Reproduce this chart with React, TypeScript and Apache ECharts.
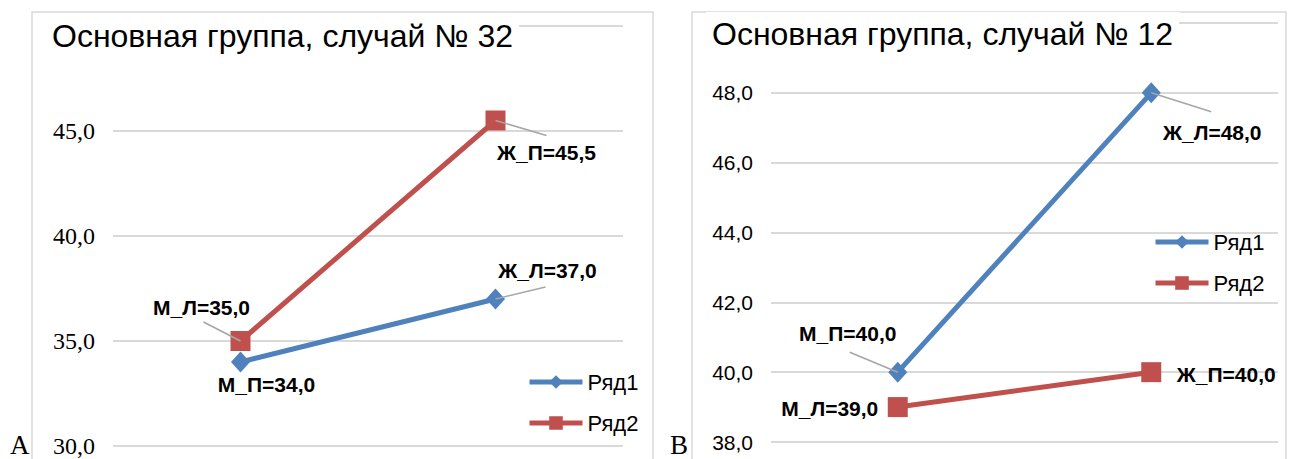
import React, { useEffect, useRef } from 'react';
import * as echarts from 'echarts';

// Categories on the (hidden) x axis and the two series of each case
const categories = ['М', 'Ж'];
const seriesNames = ['Ряд1', 'Ряд2'];
const row1PointNames = ['М_П', 'Ж_Л'];
const row2PointNames = ['М_Л', 'Ж_П'];

const case32Row1 = [34.0, 37.0];
const case32Row2 = [35.0, 45.5];
const case12Row1 = [40.0, 48.0];
const case12Row2 = [39.0, 40.0];

// Y-axis tick values
const case32Ticks = [30, 35, 40, 45, 50];
const case12Ticks = [38, 40, 42, 44, 46, 48, 50];

const titles = ['Основная группа, случай № 32', 'Основная группа, случай № 12'];
const panelLetters = ['A', 'B'];

const BLUE = '#4F81BD';
const RED = '#C0504D';
const GRID_GRAY = '#d9d9d9';
const LEADER_GRAY = '#a6a6a6';
const SANS = 'Liberation Sans';
const SERIF = 'Liberation Serif';

type Place = { label: [number, number]; leader: [number, number] | null };

// Label offsets from the marker centre and leader-line ends (pixels)
const placement: Record<string, Place[]> = {
  case32Row1: [
    { label: [26, 22], leader: null },
    { label: [52, -29], leader: [50, -12] },
  ],
  case32Row2: [
    { label: [-39, -34], leader: [-37, -19] },
    { label: [51, 32], leader: [51, 15] },
  ],
  case12Row1: [
    { label: [-50, -39], leader: [-48, -20] },
    { label: [61, 40], leader: [60, 19] },
  ],
  case12Row2: [
    { label: [-68, 1], leader: null },
    { label: [75, 2], leader: null },
  ],
};

const fmt = (v: number) => v.toFixed(1).replace('.', ',');

function lineSeries(
  name: string,
  values: number[],
  pointNames: string[],
  place: Place[],
  gridIndex: number,
  color: string,
  symbol: string,
  symbolSize: number | number[]
) {
  return {
    type: 'line',
    name,
    xAxisIndex: gridIndex,
    yAxisIndex: gridIndex,
    data: values.map((v, i) => ({ value: v, label: { offset: place[i].label } })),
    symbol,
    symbolSize,
    showAllSymbol: true,
    lineStyle: { width: 5, color },
    itemStyle: { color },
    label: {
      show: true,
      position: 'inside',
      formatter: (p: any) => `${pointNames[p.dataIndex]}=${fmt(p.value)}`,
      fontFamily: SANS,
      fontWeight: 'bold',
      fontSize: 21,
      color: '#000',
      textBorderWidth: 0,
    },
    emphasis: { disabled: true },
    z: 2,
  };
}

function leaderSeries(values: number[], place: Place[], gridIndex: number) {
  const data = values
    .map((v, i) => (place[i].leader ? [i, v, place[i].leader![0], place[i].leader![1]] : null))
    .filter((d) => d !== null);
  return {
    type: 'custom',
    name: 'leader',
    xAxisIndex: gridIndex,
    yAxisIndex: gridIndex,
    silent: true,
    z: 5,
    encode: { x: 0, y: 1 },
    data,
    renderItem: (_params: any, api: any) => {
      const p = api.coord([api.value(0), api.value(1)]);
      return {
        type: 'line',
        shape: { x1: p[0], y1: p[1], x2: p[0] + api.value(2), y2: p[1] + api.value(3) },
        style: { stroke: LEADER_GRAY, lineWidth: 1.6 },
      };
    },
  };
}

function yAxis(gridIndex: number, ticks: number[], family: string, size: number) {
  return {
    gridIndex,
    type: 'value',
    min: ticks[0],
    max: ticks[ticks.length - 1],
    interval: ticks[1] - ticks[0],
    axisLine: { show: false },
    axisTick: { show: false },
    axisLabel: {
      formatter: fmt,
      fontFamily: family,
      fontSize: size,
      color: '#000',
      margin: 18,
      // the top tick sits under the chart title
      showMaxLabel: false,
    },
    splitLine: { lineStyle: { color: GRID_GRAY, width: 2 } },
  };
}

function xAxis(gridIndex: number) {
  return {
    gridIndex,
    type: 'category',
    data: categories,
    boundaryGap: true,
    axisLine: { show: false },
    axisTick: { show: false },
    axisLabel: { show: false },
  };
}

export default function App() {
  const ref = useRef<HTMLDivElement>(null);

  useEffect(() => {
    if (!ref.current) return;
    const chart = echarts.init(ref.current, undefined, { renderer: 'svg' });

    const titleStyle = {
      fontFamily: SANS,
      fontSize: 32,
      fontWeight: 'normal',
      color: '#000',
      lineHeight: 38,
    };

    const legendBase = {
      orient: 'vertical',
      itemWidth: 53,
      itemHeight: 17,
      itemGap: 19,
      padding: 0,
      data: seriesNames,
      selectedMode: false,
      lineStyle: { width: 5 },
      textStyle: { fontFamily: SANS, fontSize: 22, color: '#000', lineHeight: 22 },
    };

    chart.setOption({
      animation: false,
      backgroundColor: '#fff',
      title: [
        { text: titles[0], left: 46, top: 14, padding: [3, 6], backgroundColor: '#fff', textStyle: titleStyle },
        { text: titles[1], left: 706, top: 12, padding: [3, 6], backgroundColor: '#fff', textStyle: titleStyle },
      ],
      legend: [
        { ...legendBase, left: 527, top: 371 },
        { ...legendBase, left: 1153, top: 231 },
      ],
      grid: [
        { left: 113, top: 26, width: 510, height: 420 },
        { left: 771, top: 23, width: 507, height: 419 },
      ],
      xAxis: [xAxis(0), xAxis(1)],
      yAxis: [yAxis(0, case32Ticks, SERIF, 24), yAxis(1, case12Ticks, SANS, 21)],
      series: [
        lineSeries(seriesNames[0], case32Row1, row1PointNames, placement.case32Row1, 0, BLUE, 'diamond', [19, 21]),
        lineSeries(seriesNames[1], case32Row2, row2PointNames, placement.case32Row2, 0, RED, 'rect', 20),
        lineSeries(seriesNames[0], case12Row1, row1PointNames, placement.case12Row1, 1, BLUE, 'diamond', [19, 21]),
        lineSeries(seriesNames[1], case12Row2, row2PointNames, placement.case12Row2, 1, RED, 'rect', 20),
        leaderSeries(case32Row1, placement.case32Row1, 0),
        leaderSeries(case32Row2, placement.case32Row2, 0),
        leaderSeries(case12Row1, placement.case12Row1, 1),
        leaderSeries(case12Row2, placement.case12Row2, 1),
      ],
      graphic: [
        {
          type: 'rect',
          shape: { x: 32, y: 12, width: 621, height: 470 },
          style: { fill: 'none', stroke: GRID_GRAY, lineWidth: 1.5 },
          z: -1,
          silent: true,
        },
        {
          type: 'rect',
          shape: { x: 692, y: 12, width: 594, height: 470 },
          style: { fill: 'none', stroke: GRID_GRAY, lineWidth: 1.5 },
          z: -1,
          silent: true,
        },
        {
          type: 'text',
          x: 10,
          y: 445,
          style: { text: panelLetters[0], font: `27px ${SERIF}`, fill: '#000', verticalAlign: 'middle' },
          z: 10,
        },
        {
          type: 'text',
          x: 670,
          y: 445,
          style: { text: panelLetters[1], font: `27px ${SERIF}`, fill: '#000', verticalAlign: 'middle' },
          z: 10,
        },
      ],
    });

    return () => chart.dispose();
  }, []);

  return (
    <div
      ref={ref}
      style={{ position: 'absolute', left: 0, top: 0, width: 1293, height: 459 }}
    />
  );
}
